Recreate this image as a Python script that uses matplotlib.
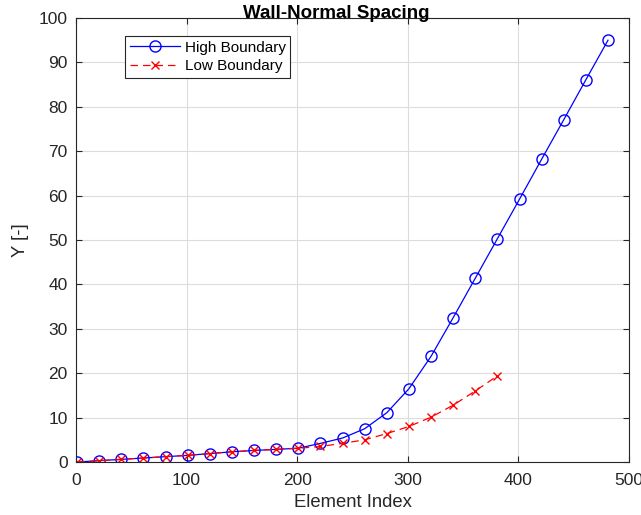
import numpy as np
import matplotlib.pyplot as plt

plt.rcParams['font.family'] = ['Liberation Sans', 'DejaVu Sans']

# element index of the plotted points (every 20th element)
idx_high = np.arange(1, 482, 20)
idx_low = np.arange(1, 382, 20)

y_high = [0.0, 0.3, 0.6, 0.9, 1.2, 1.5, 1.9, 2.3, 2.6, 2.85, 3.1, 4.2,
          5.4, 7.5, 11.1, 16.5, 23.8, 32.5, 41.4, 50.3, 59.2, 68.2, 77.1,
          86.1, 95.0]
y_low = [0.0, 0.3, 0.6, 0.9, 1.2, 1.5, 1.9, 2.3, 2.6, 2.85, 3.1, 3.5,
         4.2, 5.0, 6.4, 8.0, 10.1, 12.8, 16.0, 19.4]

fig = plt.figure(figsize=(6.41, 5.15), dpi=100)
ax = fig.add_axes([0.1186, 0.1029, 0.8627, 0.8621])

ax.plot(idx_high, y_high, "b-", marker="o", markersize=8, markerfacecolor="none",
        linewidth=0.9, label="High Boundary")
ax.plot(idx_low, y_low, "r--", marker="x", markersize=6, dashes=(6, 4),
        linewidth=0.9, label="Low Boundary")

ax.set_xlim(0, 500)
ax.set_ylim(0, 100)
ax.set_xticks(np.arange(0, 501, 100))
ax.set_yticks(np.arange(0, 101, 10))
ax.grid(True, color="#dcdcdc", linewidth=0.8)
ax.set_axisbelow(True)
ax.tick_params(direction="in", top=True, right=True, labelsize=12.5, length=4,
               color="#262626", labelcolor="#262626")
ax.tick_params(axis="x", pad=8)
ax.tick_params(axis="y", pad=6)
for s in ax.spines.values():
    s.set_color("#262626")
    s.set_linewidth(0.8)

ax.set_title("Wall-Normal Spacing", fontsize=13.5, fontweight="bold", pad=-0.3, x=0.47)
ax.set_xlabel("Element Index", fontsize=13.3, color="#262626", labelpad=4)
ax.set_ylabel("Y [-]", fontsize=13.3, color="#262626", labelpad=7)

leg = ax.legend(loc="upper left", bbox_to_anchor=(0.0886, 0.9595), borderaxespad=0,
                fontsize=11, fancybox=False, framealpha=1, edgecolor="#262626",
                handlelength=3.3, handletextpad=0.3, borderpad=0.3, labelspacing=0.3)
leg.get_frame().set_linewidth(0.8)

fig.savefig("out.png", dpi=100)
